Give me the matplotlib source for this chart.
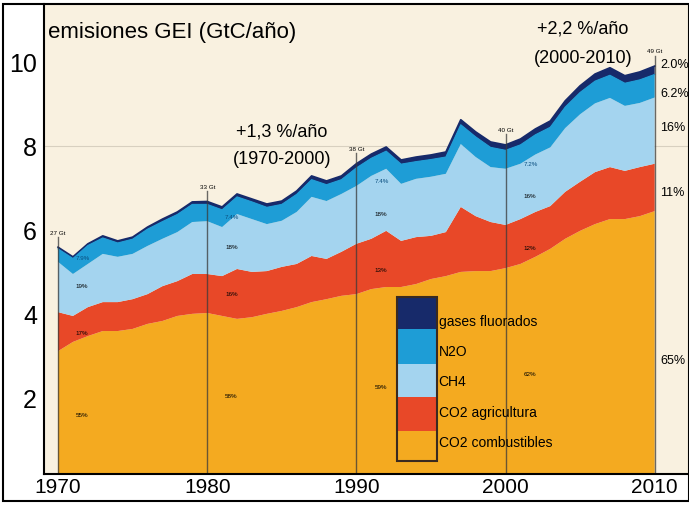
import numpy as np
import matplotlib
matplotlib.use("Agg")
import matplotlib.pyplot as plt
from matplotlib.patches import Rectangle

plt.rcParams['font.family'] = ['Liberation Sans', 'DejaVu Sans']

# datos (GtC/año)
years = np.arange(1970, 2011)

co2_comb = [3.10, 3.32, 3.46, 3.58, 3.58, 3.63, 3.75, 3.82, 3.94, 3.99,
            4.01, 3.94, 3.87, 3.91, 3.99, 4.06, 4.15, 4.27, 4.34, 4.42,
            4.46, 4.58, 4.63, 4.63, 4.70, 4.82, 4.89, 4.99, 5.01, 5.01,
            5.08, 5.18, 5.35, 5.54, 5.78, 5.97, 6.13, 6.25, 6.25, 6.32, 6.44]
co2_agr = [0.93, 0.62, 0.69, 0.69, 0.69, 0.71, 0.71, 0.83, 0.83, 0.95,
           0.93, 0.95, 1.19, 1.08, 1.02, 1.05, 1.03, 1.10, 0.96, 1.05,
           1.20, 1.20, 1.34, 1.10, 1.12, 1.03, 1.05, 1.55, 1.31, 1.17,
           1.03, 1.07, 1.07, 1.02, 1.12, 1.17, 1.24, 1.24, 1.15, 1.17, 1.13]
ch4 = [1.20, 1.00, 1.03, 1.15, 1.08, 1.08, 1.15, 1.13, 1.17, 1.24,
       1.26, 1.17, 1.31, 1.26, 1.12, 1.10, 1.24, 1.41, 1.38, 1.38,
       1.38, 1.50, 1.48, 1.36, 1.39, 1.41, 1.39, 1.50, 1.41, 1.31,
       1.34, 1.32, 1.37, 1.40, 1.52, 1.61, 1.64, 1.65, 1.55, 1.53, 1.58]
n2o = [0.31, 0.37, 0.44, 0.38, 0.33, 0.35, 0.40, 0.41, 0.42, 0.42,
       0.40, 0.41, 0.41, 0.41, 0.40, 0.39, 0.42, 0.41, 0.39, 0.34,
       0.43, 0.42, 0.42, 0.47, 0.41, 0.41, 0.40, 0.46, 0.48, 0.47,
       0.44, 0.45, 0.47, 0.48, 0.50, 0.52, 0.53, 0.54, 0.54, 0.55, 0.55]
f_gases = [0.04, 0.04, 0.04, 0.05, 0.05, 0.05, 0.05, 0.06, 0.06, 0.06,
           0.07, 0.07, 0.07, 0.07, 0.08, 0.08, 0.08, 0.09, 0.09, 0.09,
           0.10, 0.10, 0.10, 0.10, 0.11, 0.11, 0.12, 0.12, 0.12, 0.13,
           0.13, 0.14, 0.14, 0.15, 0.15, 0.16, 0.17, 0.18, 0.18, 0.19, 0.20]

labels = ['CO2 combustibles', 'CO2 agricultura', 'CH4', 'N2O', 'gases fluorados']
colors = ['#f4aa20', '#e84828', '#a4d4ef', '#1e9dd6', '#172a6a']

mark_years = [1970, 1980, 1990, 2000, 2010]
mark_totals = ['27 Gt', '33 Gt', '38 Gt', '40 Gt', '49 Gt']
pct_comb = ['55%', '58%', '59%', '62%']
pct_agr = ['17%', '16%', '13%', '12%']
pct_ch4 = ['19%', '18%', '18%', '16%']
pct_n2o = ['7.9%', '7.4%', '7.4%', '7.2%']
right_pct = ['65%', '11%', '16%', '6.2%', '2.0%']

fig = plt.figure(figsize=(6.89, 5.06), dpi=100)
fig.patches.append(Rectangle((3/689, 4/506), 1 - 3/689, 1 - 9/506, transform=fig.transFigure,
                             fill=False, edgecolor='black', lw=1.5))
ax = fig.add_axes([44/689, 31/506, 645/689, 470/506])
ax.set_facecolor('#f9f1e0')

ax.stackplot(years, co2_comb, co2_agr, ch4, n2o, f_gases, colors=colors, lw=0)

tops = np.cumsum([co2_comb, co2_agr, ch4, n2o, f_gases], axis=0)
total = tops[-1]
ax.plot(years, total, color='#172a6a', lw=1.2)
ax.plot(years, tops[3], color='#1e9dd6', lw=0.8)

# lineas verticales y etiquetas pequeñas
for i, yr in enumerate(mark_years):
    k = yr - 1970
    ax.plot([yr, yr], [0, total[k] + 0.25], color='#3a3a3a', lw=1, alpha=0.75)
    ax.text(yr, total[k] + 0.3, mark_totals[i], fontsize=4.5, ha='center', va='bottom')
for i, yr in enumerate(mark_years[:4]):
    k = yr - 1970
    ax.text(yr + 1.2, co2_comb[k] * 0.5, pct_comb[i], fontsize=4.5)
    ax.text(yr + 1.2, tops[0][k] + co2_agr[k] * 0.45, pct_agr[i], fontsize=4.5)
    ax.text(yr + 1.2, tops[1][k] + ch4[k] * 0.5, pct_ch4[i], fontsize=4.5)
    ax.text(yr + 1.2, tops[2][k] + n2o[k] * 0.2, pct_n2o[i], fontsize=4.5, color='#0b4f80')

rpos = [co2_comb[-1] * 0.45, tops[0][-1] + co2_agr[-1] * 0.4, tops[1][-1] + ch4[-1] * 0.55,
        tops[2][-1] + 0.1, total[-1] + 0.05]
for t, y in zip(right_pct, rpos):
    ax.text(2010.35, y, t, fontsize=9, va='center', ha='left')

ax.text(1969.3, 10.72, 'emisiones GEI (GtC/año)', fontsize=16, va='center')
ax.text(1985.0, 8.35, '+1,3 %/año', fontsize=13, ha='center', va='center')
ax.text(1985.0, 7.7, '(1970-2000)', fontsize=13, ha='center', va='center')
ax.text(2005.2, 10.8, '+2,2 %/año', fontsize=13, ha='center', va='center')
ax.text(2005.2, 10.1, '(2000-2010)', fontsize=13, ha='center', va='center')

ax.axhline(8, color='#d8d0c0', lw=0.8, zorder=0)

# leyenda dibujada a mano: bloques apilados con texto
sw_edges = [0.3766, 0.3085, 0.234, 0.1638, 0.0915, 0.0277]
txt_y = [0.3255, 0.2617, 0.198, 0.132, 0.068]
for i, (lab, col) in enumerate(zip(labels[::-1], colors[::-1])):
    ax.add_patch(Rectangle((0.547, sw_edges[i + 1]), 0.062, sw_edges[i] - sw_edges[i + 1],
                           transform=ax.transAxes, facecolor=col, edgecolor='none', zorder=5))
    ax.text(0.612, txt_y[i], lab, transform=ax.transAxes, fontsize=10, va='center', zorder=6)
ax.add_patch(Rectangle((0.547, sw_edges[-1]), 0.062, sw_edges[0] - sw_edges[-1],
                       transform=ax.transAxes, fill=False, edgecolor='#3a2a20', lw=1.5, zorder=6))

ax.set_xlim(1969.06, 2012.3)
ax.set_ylim(0.17, 11.38)
ax.set_xticks([1970, 1980, 1990, 2000, 2010])
ax.set_yticks([2, 4, 6, 8, 10])
ax.tick_params(axis='y', length=0, labelsize=18, pad=5)
ax.tick_params(axis='x', length=0, labelsize=15, pad=2)
for s in ['top', 'right']:
    ax.spines[s].set_visible(False)
ax.spines['left'].set_linewidth(1.5)
ax.spines['bottom'].set_linewidth(1.5)

plt.savefig('out.png', dpi=100)
